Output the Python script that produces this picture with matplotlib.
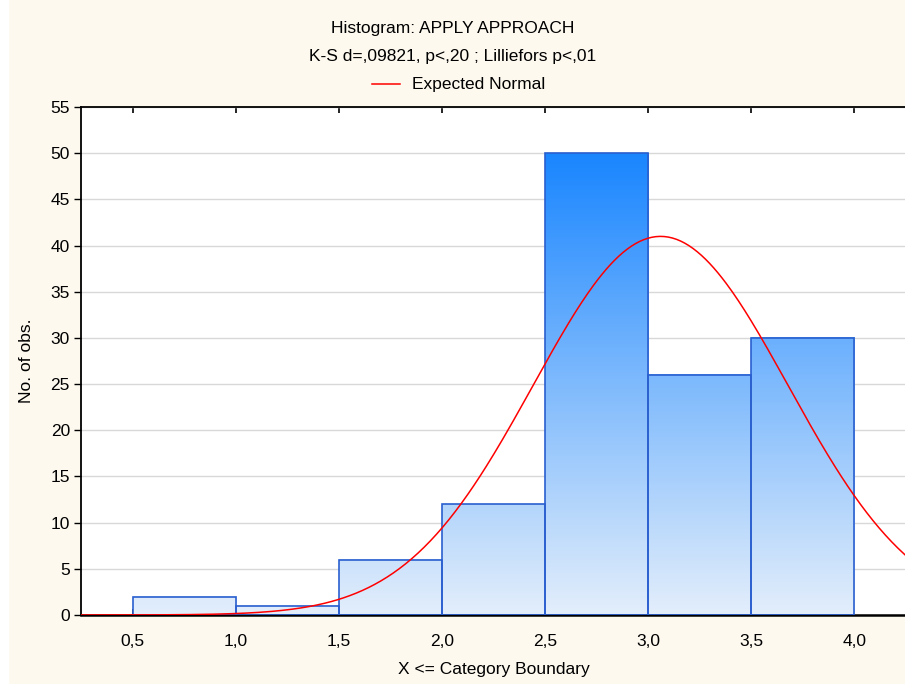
import numpy as np
import matplotlib
matplotlib.use("Agg")
import matplotlib.pyplot as plt
from matplotlib.colors import LinearSegmentedColormap, Normalize
from matplotlib.lines import Line2D

plt.rcParams['font.family'] = ['Liberation Sans', 'DejaVu Sans']

# category boundaries and counts
bin_edges = [0.5, 1.0, 1.5, 2.0, 2.5, 3.0, 3.5, 4.0]
counts = [2, 1, 6, 12, 50, 26, 30]
tick_labels = ["0,5", "1,0", "1,5", "2,0", "2,5", "3,0", "3,5", "4,0"]
y_ticks = list(range(0, 60, 5))

# fitted normal
fit_mean = 3.06
fit_sd = 0.618

n_obs = sum(counts)
bin_width = bin_edges[1] - bin_edges[0]

fig = plt.figure(figsize=(9.05, 6.84), dpi=100)
fig.patch.set_facecolor("#fdf9ef")
# thin white strip on the left
fig.add_artist(plt.Rectangle((0, 0), 8 / 905, 1, transform=fig.transFigure,
                             color="white", zorder=-1))

ax = fig.add_axes([81 / 905, 69 / 684, 825 / 905, 508 / 684])
ax.set_facecolor("white")
ax.set_xlim(0.25, 4.25)
ax.set_ylim(0, 55)

ax.set_yticks(y_ticks)
ax.yaxis.grid(True, color="#d8d8d8", linewidth=1)
ax.set_axisbelow(True)

# bars: vertical gradient shared across the whole y range
cmap = LinearSegmentedColormap.from_list("blues", ["#e3eefb", "#1a86ff"])
norm = Normalize(0, max(counts))
for left, right, c in zip(bin_edges[:-1], bin_edges[1:], counts):
    col = np.linspace(0, c, 200).reshape(-1, 1)
    ax.imshow(col, cmap=cmap, norm=norm, origin="lower", aspect="auto",
              extent=(left, right, 0, c), interpolation="bilinear", zorder=2)
ax.bar(bin_edges[:-1], counts, width=bin_width, align="edge",
       facecolor="none", edgecolor="#2a5fcf", linewidth=1.2, zorder=3)

xs = np.linspace(0.25, 4.25, 400)
expected = n_obs * bin_width / (fit_sd * np.sqrt(2 * np.pi)) * np.exp(-0.5 * ((xs - fit_mean) / fit_sd) ** 2)
ax.plot(xs, expected, color="#ff0000", linewidth=1.1, zorder=4)

ax.set_xticks(bin_edges)
ax.set_xticklabels(tick_labels)
ax.tick_params(axis="x", direction="in", length=4, width=1.2, top=True,
               labelsize=12.5, pad=14)
ax.tick_params(axis="y", direction="out", length=5, width=1, right=True,
               labelsize=12.5, pad=3)
for side in ["left", "top", "right"]:
    ax.spines[side].set_linewidth(1.3)
ax.spines["bottom"].set_linewidth(1.8)

ax.set_xlabel("X <= Category Boundary", fontsize=12.5, labelpad=9)
ax.set_ylabel("No. of obs.", fontsize=12.5, labelpad=12)

fig.text(0.5, 1 - 28 / 684, "Histogram: APPLY APPROACH", ha="center", va="center", fontsize=12.5)
fig.text(0.5, 1 - 57 / 684, "K-S d=,09821, p<,20 ; Lilliefors p<,01", ha="center", va="center", fontsize=12.5)
fig.add_artist(Line2D([372 / 905, 400 / 905], [1 - 84 / 684, 1 - 84 / 684],
                      transform=fig.transFigure, color="#ff0000", linewidth=1.1))
fig.text(412 / 905, 1 - 84 / 684, "Expected Normal", ha="left", va="center", fontsize=12.5)

fig.savefig("out.png", dpi=100, facecolor=fig.get_facecolor())
